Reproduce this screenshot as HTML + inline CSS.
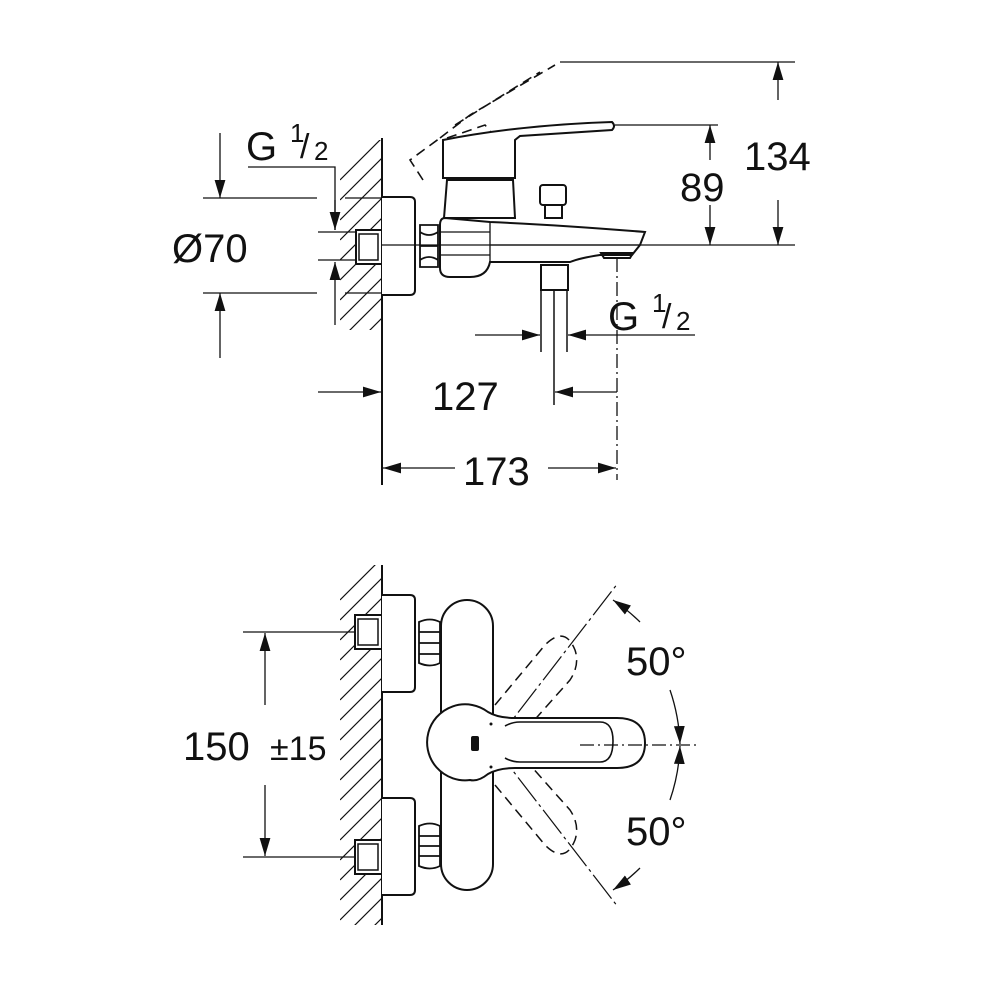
<!DOCTYPE html>
<html><head><meta charset="utf-8"><style>
html,body{margin:0;padding:0;background:#fff;}
svg{display:block}
text{font-family:"Liberation Sans",Arial,sans-serif;fill:#111}
</style></head><body>
<svg width="1000" height="1000" viewBox="0 0 1000 1000" xmlns="http://www.w3.org/2000/svg">
<defs>
<marker id="a" viewBox="0 0 10 10" refX="10" refY="5" markerWidth="18" markerHeight="18" markerUnits="userSpaceOnUse" orient="auto"><path d="M0,2 L10,5 L0,8Z" fill="#111"/></marker>
<clipPath id="h1"><rect x="340" y="140" width="42" height="190"/></clipPath>
<clipPath id="h2"><rect x="340" y="565" width="42" height="360"/></clipPath>
</defs>
<g stroke="#111" fill="none" stroke-width="1.3">
<!-- ===== TOP VIEW ===== -->
<line x1="382" y1="138" x2="382" y2="485" stroke-width="2"/>
<g clip-path="url(#h1)" stroke-width="1.2">
<path d="M340,180 L382,138 M340,200 L382,158 M340,220 L382,178 M340,240 L382,198 M340,260 L382,218 M340,280 L382,238 M340,300 L382,258 M340,320 L382,278 M340,340 L382,298 M340,360 L382,318 M340,380 L382,338"/>
</g>
<rect x="356" y="230" width="26" height="34" fill="#fff" stroke-width="2"/>
<rect x="359" y="234" width="19" height="26" stroke-width="1.5"/>
<path d="M382,197 H410 Q415,197 415,202 V290 Q415,295 410,295 H382" fill="#fff" stroke-width="2"/>
<path d="M420,225 H438 V267 H420Z M420,232 Q429,238 438,232 M420,246 H438 M420,260 Q429,254 438,260" stroke-width="1.8"/>
<!-- handle ghost -->
<g stroke-dasharray="10,6" stroke-width="1.6">
<path d="M423,180 L410,160 L440,138 M440,138 L470,115 L555,65 M455,125 L540,72 M447,138 L485,125 L502,145 L480,160 L458,175"/>
</g>
<!-- handle -->
<path d="M443,140 Q520,125 612,122 Q616,126 612,130 L520,136 L515,140 V178 H443Z" fill="#fff" stroke-width="2"/>
<path d="M447,180 H513 L515,218 H444Z" fill="#fff" stroke-width="2"/>
<rect x="540" y="185" width="26" height="20" rx="3" stroke-width="2"/>
<rect x="545" y="205" width="17" height="13" stroke-width="2"/>
<!-- body & spout -->
<path d="M445,218 L490,222 Q560,225 645,232 L640,245 L632,255 L600,255 Q580,258 570,262 L490,262 Q487,277 470,277 H450 Q440,277 440,268 V225 Q440,218 445,218Z" fill="#fff" stroke-width="2"/>
<path d="M490,222 V262 M440,232 H490 M440,255 H490 M490,245 H640"/>
<path d="M601,253 H633 L630,258 H604Z" stroke-width="2"/>
<rect x="541" y="265" width="27" height="25" stroke-width="2"/>
<path d="M541,290 V352 M554,290 V405 M567,290 V352" stroke-width="1.5"/>
<line x1="617" y1="258" x2="617" y2="480" stroke-dasharray="14,4,2,4"/>
<!-- dims top -->
<line x1="382" y1="245" x2="795" y2="245"/>
<line x1="560" y1="62" x2="795" y2="62"/>
<line x1="615" y1="125" x2="718" y2="125"/>
<line x1="778" y1="100" x2="778" y2="62" marker-end="url(#a)"/>
<line x1="778" y1="200" x2="778" y2="245" marker-end="url(#a)"/>
<line x1="710" y1="160" x2="710" y2="125" marker-end="url(#a)"/>
<line x1="710" y1="205" x2="710" y2="245" marker-end="url(#a)"/>
<!-- Ø70 -->
<path d="M203,198 H317 M345,198 H382 M203,293 H317 M345,293 H382"/>
<line x1="220" y1="133" x2="220" y2="198" marker-end="url(#a)"/>
<line x1="220" y1="358" x2="220" y2="293" marker-end="url(#a)"/>
<!-- G1/2 left -->
<path d="M248,167 H335 V230 M318,232 H356 M318,260 H356"/>
<line x1="335" y1="200" x2="335" y2="230" marker-end="url(#a)"/>
<line x1="335" y1="325" x2="335" y2="262" marker-end="url(#a)"/>
<!-- G1/2 right -->
<line x1="475" y1="335" x2="540" y2="335" marker-end="url(#a)"/>
<line x1="695" y1="335" x2="568" y2="335" marker-end="url(#a)"/>
<!-- 127 -->
<line x1="318" y1="392" x2="381" y2="392" marker-end="url(#a)"/>
<line x1="617" y1="392" x2="555" y2="392" marker-end="url(#a)"/>
<!-- 173 -->
<line x1="455" y1="468" x2="383" y2="468" marker-end="url(#a)"/>
<line x1="548" y1="468" x2="616" y2="468" marker-end="url(#a)"/>

<!-- ===== BOTTOM VIEW ===== -->
<line x1="382" y1="565" x2="382" y2="925" stroke-width="2"/>
<g clip-path="url(#h2)" stroke-width="1.2">
<path d="M340,600 L382,558 M340,620 L382,578 M340,640 L382,598 M340,660 L382,618 M340,680 L382,638 M340,700 L382,658 M340,720 L382,678 M340,740 L382,698 M340,760 L382,718 M340,780 L382,738 M340,800 L382,758 M340,820 L382,778 M340,840 L382,798 M340,860 L382,818 M340,880 L382,838 M340,900 L382,858 M340,920 L382,878 M340,940 L382,898 M340,960 L382,918"/>
</g>
<rect x="355" y="615" width="27" height="34" fill="#fff" stroke-width="2"/>
<rect x="358" y="619" width="20" height="26" stroke-width="1.5"/>
<rect x="355" y="840" width="27" height="34" fill="#fff" stroke-width="2"/>
<rect x="358" y="844" width="20" height="26" stroke-width="1.5"/>
<path d="M382,595 H410 Q415,595 415,600 V687 Q415,692 410,692 H382" fill="#fff" stroke-width="2"/>
<path d="M382,798 H410 Q415,798 415,803 V890 Q415,895 410,895 H382" fill="#fff" stroke-width="2"/>
<path d="M419,622 Q430,617 440,622 V663 Q430,668 419,663Z M419,632 H440 M419,643 H440 M419,654 H440" stroke-width="1.8"/>
<path d="M419,826 Q430,821 440,826 V866 Q430,871 419,866Z M419,836 H440 M419,846 H440 M419,856 H440" stroke-width="1.8"/>
<path d="M243,632 H355 M243,857 H355"/>
<line x1="265" y1="705" x2="265" y2="633" marker-end="url(#a)"/>
<line x1="265" y1="785" x2="265" y2="856" marker-end="url(#a)"/>
<!-- ghost handles -->
<g stroke-dasharray="10,6" stroke-width="1.5">
<path d="M495,705 L545,645 Q565,625 575,650 Q580,665 570,680 L530,725"/>
<path d="M495,785 L545,845 Q565,865 575,840 Q580,825 570,810 L530,765"/>
</g>
<line x1="493" y1="745" x2="618" y2="583" stroke-width="1.2" stroke-dasharray="30,4,3,4"/>
<line x1="493" y1="745" x2="618" y2="907" stroke-width="1.2" stroke-dasharray="30,4,3,4"/>
<!-- body -->
<rect x="441" y="600" width="52" height="290" rx="26" fill="#fff" stroke-width="2"/>
<!-- lever -->
<path d="M488,712 Q498,718 515,718 H617 Q645,718 645,743 Q645,768 617,768 H515 Q498,768 488,774 Q478,782 470,780 A38,38 0 1 1 488,712Z" fill="#fff" stroke-width="2"/>
<path d="M505,726 Q512,722 520,722 H600 Q613,722 613,741 Q613,762 600,762 H520 Q512,762 505,758" stroke-width="1.6"/>
<rect x="471" y="736" width="8" height="15" rx="2" fill="#111" stroke="none"/>
<circle cx="491" cy="724" r="1.5" fill="#111" stroke="none"/>
<circle cx="491" cy="767" r="1.5" fill="#111" stroke="none"/>
<line x1="580" y1="745" x2="697" y2="745" stroke-dasharray="14,4,2,4"/>
<!-- angle arcs -->
<path d="M640,622 A187,187 0 0,0 613,600" marker-end="url(#a)"/>
<path d="M670,690 A187,187 0 0,1 680,744" marker-end="url(#a)"/>
<path d="M640,868 A187,187 0 0,1 613,890" marker-end="url(#a)"/>
<path d="M670,800 A187,187 0 0,0 680,746" marker-end="url(#a)"/>
</g>
<g font-size="40">
<text x="744" y="170">134</text>
<text x="680" y="201">89</text>
<text x="172" y="262">Ø70</text>
<text x="432" y="410">127</text>
<text x="463" y="485">173</text>
<text x="183" y="760">150</text>
<text x="270" y="760" font-size="34">±15</text>
<text x="626" y="675">50°</text>
<text x="626" y="845">50°</text>
<text x="246" y="160">G</text>
<text x="608" y="330">G</text>
</g>
<g font-size="26">
<text x="290" y="142">1</text><text x="300" y="158" font-size="34">/</text><text x="314" y="160">2</text>
<text x="652" y="312">1</text><text x="662" y="328" font-size="34">/</text><text x="676" y="330">2</text>
</g>
</svg>
</body></html>
